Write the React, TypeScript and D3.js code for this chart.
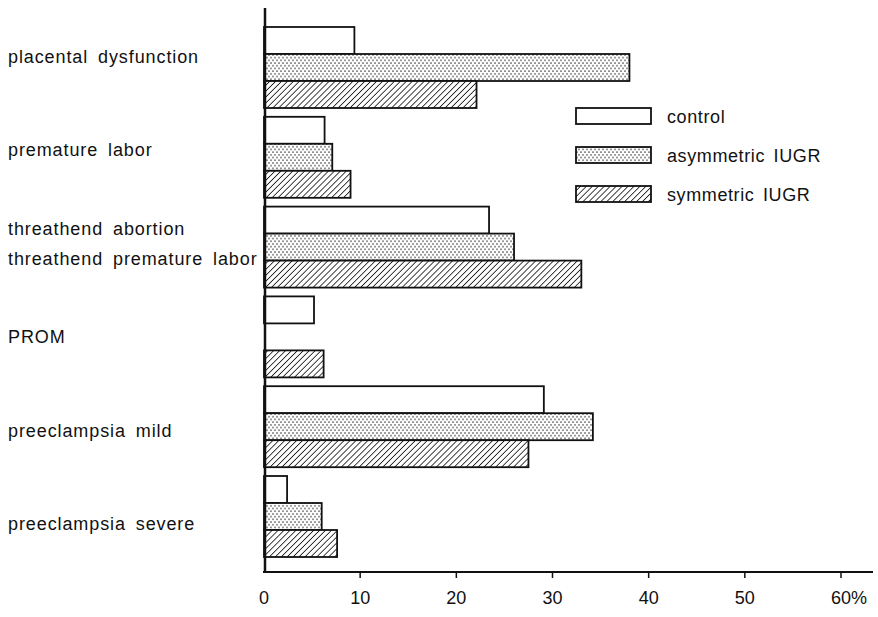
import React from "react";
import * as d3 from "d3";

const categories = [
  ["placental dysfunction"],
  ["premature labor"],
  ["threathend abortion", "threathend premature labor"],
  ["PROM"],
  ["preeclampsia mild"],
  ["preeclampsia severe"],
];
const seriesNames = ["control", "asymmetric IUGR", "symmetric IUGR"];
const control = [9.4, 6.3, 23.4, 5.2, 29.1, 2.4];
const asymmetric = [38.0, 7.1, 26.0, 0, 34.2, 6.0];
const symmetric = [22.1, 9.0, 33.0, 6.2, 27.5, 7.6];
const tickValues = [0, 10, 20, 30, 40, 50, 60];
const tickLabels = ["0", "10", "20", "30", "40", "50", "60%"];

const W = 878;
const H = 617;
const FONT = "'Liberation Sans', Arial, sans-serif";

export default function App() {
  const x = d3.scaleLinear().domain([0, 60]).range([264, 841]);
  const y = d3
    .scaleBand<number>()
    .domain(d3.range(categories.length))
    .range([27, 557])
    .paddingInner(0.098)
    .paddingOuter(0);
  const labelY = d3
    .scalePoint<number>()
    .domain(d3.range(categories.length))
    .range([63, 530]);
  const sub = d3
    .scaleBand<number>()
    .domain([0, 1, 2])
    .range([0, y.bandwidth()]);
  const series = [control, asymmetric, symmetric];
  const fills = ["#fff", "url(#dots)", "url(#hatch)"];
  const axisY = 572;
  const axisX = 265;

  const legendY = d3.scaleLinear().domain([0, 1]).range([108, 147]);

  return (
    <svg
      width={W}
      height={H}
      style={{ position: "absolute", left: 0, top: 0, background: "#fff" }}
      fontFamily={FONT}
    >
      <defs>
        <pattern id="dots" width={4} height={5.4} patternUnits="userSpaceOnUse">
          <rect width={4} height={5.4} fill="#fff" />
          <circle cx={1} cy={1} r={0.75} fill="#111" />
          <circle cx={3} cy={3.7} r={0.75} fill="#111" />
        </pattern>
        <pattern
          id="hatch"
          width={4.2}
          height={4.2}
          patternUnits="userSpaceOnUse"
          patternTransform="rotate(45)"
        >
          <rect width={4.2} height={4.2} fill="#fff" />
          <line x1={0} y1={0} x2={0} y2={4.2} stroke="#111" strokeWidth={1.6} />
        </pattern>
      </defs>

      {series.map((vals, s) =>
        vals.map((v, i) =>
          v > 0 ? (
            <rect
              key={`${s}-${i}`}
              x={x(0)}
              y={(y(i) as number) + (sub(s) as number)}
              width={x(v) - x(0)}
              height={sub.bandwidth()}
              fill={fills[s]}
              stroke="#111"
              strokeWidth={1.8}
            />
          ) : null
        )
      )}

      {categories.map((lines, i) => {
        const yc = labelY(i) as number;
        const n = lines.length;
        return (
          <text key={i} fontSize={18} fill="#111" letterSpacing={0.9} wordSpacing={4}>
            {lines.map((t, j) => (
              <tspan key={j} x={8} y={yc + (j - (n - 1) / 2) * 29.5}>
                {t}
              </tspan>
            ))}
          </text>
        );
      })}

      <line x1={axisX} y1={8} x2={axisX} y2={axisY} stroke="#111" strokeWidth={2.5} />
      <line x1={263} y1={axisY} x2={873} y2={axisY} stroke="#111" strokeWidth={2.2} />
      {tickValues.map((t, i) => {
        const label = tickLabels[i];
        const isPct = label.endsWith("%");
        return (
          <g key={t}>
            {t > 0 && (
              <line x1={x(t)} x2={x(t)} y1={axisY} y2={axisY + 6} stroke="#111" strokeWidth={1.5} />
            )}
            <text
              x={isPct ? x(t) - 10 : x(t)}
              y={604}
              fontSize={18}
              textAnchor={isPct ? "start" : "middle"}
              fill="#111"
            >
              {label}
            </text>
          </g>
        );
      })}

      {seriesNames.map((name, s) => (
        <g key={name}>
          <rect
            x={576}
            y={legendY(s)}
            width={75}
            height={16}
            fill={fills[s]}
            stroke="#111"
            strokeWidth={1.8}
          />
          <text
            x={667}
            y={legendY(s) + 15}
            fontSize={18}
            fill="#111"
            letterSpacing={0.6}
            wordSpacing={3}
          >
            {name}
          </text>
        </g>
      ))}
    </svg>
  );
}
